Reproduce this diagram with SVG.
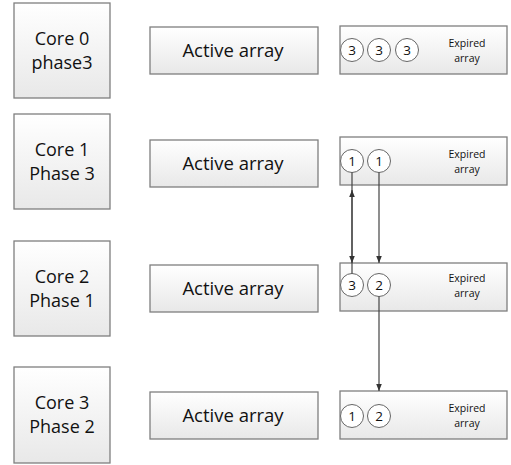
<svg xmlns="http://www.w3.org/2000/svg" width="511" height="465" viewBox="0 0 511 465">
<defs>
<linearGradient id="g" x1="0" y1="0" x2="0" y2="1">
<stop offset="0" stop-color="#ffffff"/>
<stop offset="1" stop-color="#e8e8e8"/>
</linearGradient>
<marker id="ah" viewBox="0 0 10 10" refX="10" refY="5" markerWidth="7" markerHeight="7" orient="auto-start-reverse" markerUnits="userSpaceOnUse">
<path d="M0,1 L10,5 L0,9 Z" fill="#333"/>
</marker>
<style>
.box{fill:url(#g);stroke:#7f7f7f;stroke-width:1.3}
.t{font-family:"Open Sans","Noto Sans",sans-serif;font-size:18px;fill:#111;text-anchor:middle}
.a{font-family:"Open Sans","Noto Sans",sans-serif;font-size:18.5px;fill:#111;text-anchor:middle}
.s{font-family:"Open Sans","Noto Sans",sans-serif;font-size:10.5px;fill:#111;text-anchor:middle}
.c{fill:#fff;stroke:#666;stroke-width:1}
.n{font-family:"Open Sans","Noto Sans",sans-serif;font-size:13.5px;fill:#111;text-anchor:middle}
.ln{stroke:#444;stroke-width:1.2;fill:none}
</style>
</defs>
<rect width="511" height="465" fill="#fff"/>

<g id="core0">
<rect class="box" x="14" y="3" width="96" height="95"/>
<text class="t" x="62" y="45">Core 0</text>
<text class="t" x="62" y="69">phase3</text>
</g>
<g id="active0">
<rect class="box" x="150" y="27" width="168" height="47"/>
<text class="a" x="233" y="57">Active array</text>
</g>
<g id="expired0">
<rect class="box" x="340" y="26" width="167" height="48"/>
<circle class="c" cx="352" cy="50" r="11.5"/>
<circle class="c" cx="379" cy="50" r="11.5"/>
<circle class="c" cx="407" cy="50" r="11.5"/>
<text class="n" x="352" y="55">3</text>
<text class="n" x="379" y="55">3</text>
<text class="n" x="407" y="55">3</text>
<text class="s" x="467" y="47">Expired</text>
<text class="s" x="467" y="62">array</text>
</g>

<g id="core1">
<rect class="box" x="14" y="114" width="96" height="95"/>
<text class="t" x="62" y="156">Core 1</text>
<text class="t" x="62" y="180">Phase 3</text>
</g>
<g id="active1">
<rect class="box" x="150" y="140" width="168" height="47"/>
<text class="a" x="233" y="170">Active array</text>
</g>
<g id="expired1">
<rect class="box" x="340" y="137" width="167" height="48"/>
<circle class="c" cx="352" cy="161" r="11.5"/>
<circle class="c" cx="379" cy="161" r="11.5"/>
<text class="n" x="352" y="166">1</text>
<text class="n" x="379" y="166">1</text>
<text class="s" x="467" y="158">Expired</text>
<text class="s" x="467" y="173">array</text>
</g>

<g id="core2">
<rect class="box" x="14" y="241" width="96" height="95"/>
<text class="t" x="62" y="283">Core 2</text>
<text class="t" x="62" y="307">Phase 1</text>
</g>
<g id="active2">
<rect class="box" x="150" y="265" width="168" height="47"/>
<text class="a" x="233" y="295">Active array</text>
</g>
<g id="expired2">
<rect class="box" x="340" y="263" width="167" height="48"/>
<circle class="c" cx="352" cy="285" r="11.5"/>
<circle class="c" cx="379" cy="285" r="11.5"/>
<text class="n" x="352" y="290">3</text>
<text class="n" x="379" y="290">2</text>
<text class="s" x="467" y="282">Expired</text>
<text class="s" x="467" y="297">array</text>
</g>

<g id="core3">
<rect class="box" x="14" y="367" width="96" height="96"/>
<text class="t" x="62" y="409">Core 3</text>
<text class="t" x="62" y="433">Phase 2</text>
</g>
<g id="active3">
<rect class="box" x="150" y="392" width="168" height="47"/>
<text class="a" x="233" y="422">Active array</text>
</g>
<g id="expired3">
<rect class="box" x="340" y="391" width="167" height="48"/>
<circle class="c" cx="352" cy="416" r="11.5"/>
<circle class="c" cx="379" cy="416" r="11.5"/>
<text class="n" x="352" y="421">1</text>
<text class="n" x="379" y="421">2</text>
<text class="s" x="467" y="412">Expired</text>
<text class="s" x="467" y="427">array</text>
</g>

<g id="connectors">
<line class="ln" x1="352" y1="172.5" x2="352" y2="273.5"/>
<line class="ln" x1="352" y1="190" x2="352" y2="263" marker-start="url(#ah)" marker-end="url(#ah)"/>
<line class="ln" x1="379" y1="172.5" x2="379" y2="263" marker-end="url(#ah)"/>
<line class="ln" x1="379" y1="296.5" x2="379" y2="391" marker-end="url(#ah)"/>
</g>
</svg>
